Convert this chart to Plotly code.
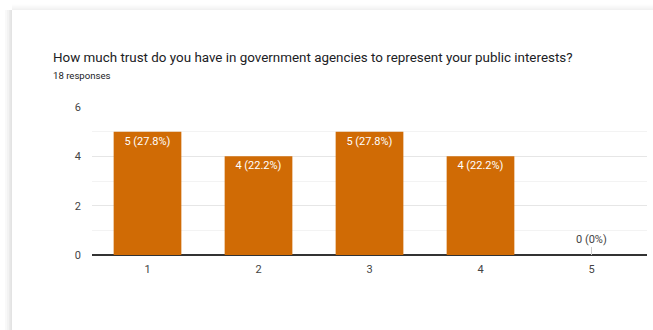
import plotly.graph_objects as go

# Survey question results
question = "How much trust do you have in government agencies to represent your public interests?"
responses_label = "18 responses"
categories = ["1", "2", "3", "4", "5"]
counts = [5, 4, 5, 4, 0]
percents = ["27.8%", "22.2%", "27.8%", "22.2%", "0%"]
y_ticks = [0, 2, 4, 6]

BAR_COLOR = "#d06b05"
FONT = "Roboto"

# Plot area in pixels (window is 653x330)
W, H = 653, 330
L, R, T, B = 92, 6, 107, 75
pw, ph = W - L - R, H - T - B


def px_x(px):
    return (px - L) / pw


def px_y(py):
    return (H - B - py) / ph


labels = [f"{c} ({p})" for c, p in zip(counts, percents)]
inside = [lab if c > 0 else "" for lab, c in zip(labels, counts)]

fig = go.Figure(
    go.Bar(
        x=categories,
        y=counts,
        text=inside,
        textposition="inside",
        insidetextanchor="end",
        textfont=dict(family=FONT, size=11, color="white"),
        marker=dict(color=BAR_COLOR, line=dict(width=0)),
        width=0.61,
        hoverinfo="skip",
    )
)

# Zero-valued categories get a label on a short stem above the axis
for i, (c, lab) in enumerate(zip(counts, labels)):
    if c == 0:
        fig.add_annotation(
            x=i, y=c, xref="x", yref="y",
            text=lab, showarrow=True, arrowhead=0, arrowwidth=1,
            arrowcolor="#cccccc", ax=0, ay=-16, standoff=0,
            font=dict(family=FONT, size=11, color="#444444"),
        )

# Card title and subtitle
fig.add_annotation(
    x=px_x(51), y=px_y(58), xref="paper", yref="paper",
    text=question, showarrow=False, xanchor="left", yanchor="middle",
    font=dict(family=FONT, size=13.4, color="#202124"),
)
fig.add_annotation(
    x=px_x(51), y=px_y(75), xref="paper", yref="paper",
    text=responses_label, showarrow=False, xanchor="left", yanchor="middle",
    font=dict(family=FONT, size=9.6, color="#202124"),
)

# Soft card shadow along the left and top edges
shadow_steps = [(0.025, 7), (0.025, 5), (0.03, 3), (0.03, 1.5)]
for op, w in shadow_steps:
    fig.add_shape(
        type="rect", xref="paper", yref="paper", layer="below",
        x0=px_x(12 - w), x1=px_x(12), y0=px_y(H), y1=px_y(10),
        fillcolor="#000000", opacity=op, line=dict(width=0),
    )
    fig.add_shape(
        type="rect", xref="paper", yref="paper", layer="below",
        x0=px_x(12), x1=px_x(W), y0=px_y(10), y1=px_y(10 - w * 0.8),
        fillcolor="#000000", opacity=op * 0.5, line=dict(width=0),
    )

fig.update_layout(
    width=W, height=H,
    margin=dict(l=L, r=R, t=T, b=B),
    paper_bgcolor="white", plot_bgcolor="white",
    showlegend=False,
    bargap=0.39,
    font=dict(family=FONT, size=11, color="#444444"),
    xaxis=dict(
        type="category", range=[-0.5, len(categories) - 0.5],
        showgrid=False, showline=False, zeroline=False,
        ticks="", tickfont=dict(family=FONT, size=11, color="#444444"),
        ticklabelstandoff=6,
    ),
    yaxis=dict(
        range=[0, 6], tickvals=y_ticks, showgrid=True, gridcolor="#e6e6e6",
        gridwidth=1, zeroline=True, zerolinecolor="#333333", zerolinewidth=1.5,
        showline=False, ticks="", ticklabelstandoff=10,
        tickfont=dict(family=FONT, size=11, color="#444444"),
        minor=dict(dtick=1, showgrid=True, gridcolor="#f3f3f3", gridwidth=1),
    ),
)

fig.write_html("out.html")
